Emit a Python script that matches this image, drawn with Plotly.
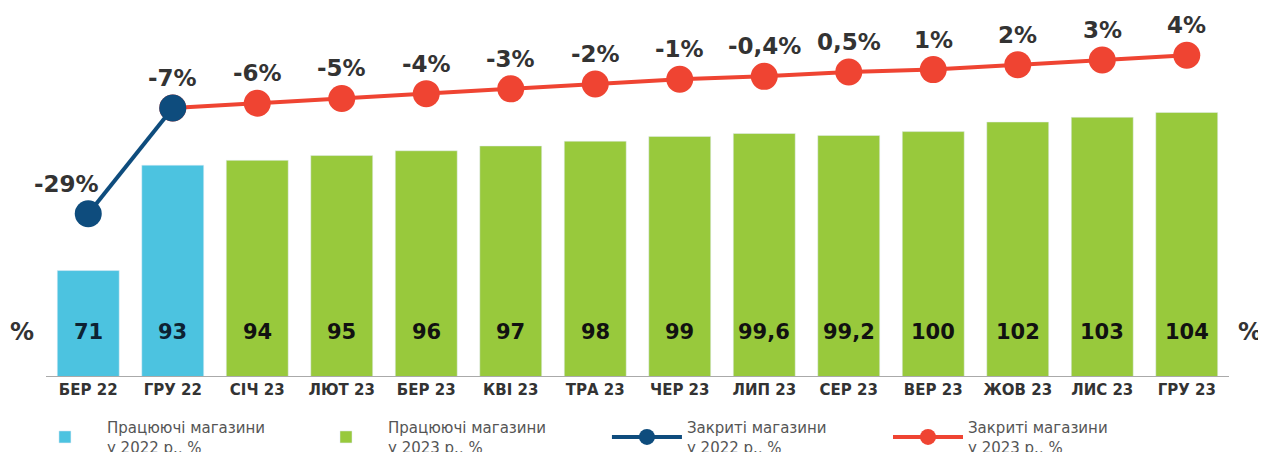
import plotly.graph_objects as go

# ---- data ----
months_2022 = ["БЕР 22", "ГРУ 22"]
months_2023 = ["СІЧ 23", "ЛЮТ 23", "БЕР 23", "КВІ 23", "ТРА 23", "ЧЕР 23",
               "ЛИП 23", "СЕР 23", "ВЕР 23", "ЖОВ 23", "ЛИС 23", "ГРУ 23"]
working_2022 = [71, 93]
working_2023 = [94, 95, 96, 97, 98, 99, 99.6, 99.2, 100, 102, 103, 104]
closed_2022 = [-29, -7]
closed_2023 = [-6, -5, -4, -3, -2, -1, -0.4, 0.5, 1, 2, 3, 4]

FONT = "DejaVu Sans"
C_BLUE = "#4cc3e0"
C_GREEN = "#98c93c"
C_NAVY = "#0e4c7d"
C_RED = "#ef4432"


def fmt(v):
    return ("%g" % v).replace(".", ",")


fig = go.Figure()

fig.add_trace(go.Bar(x=months_2022, y=working_2022, marker_color=C_BLUE,
                     name="Працюючі магазини<br>у 2022 р., %", legend="legend"))
fig.add_trace(go.Bar(x=months_2023, y=working_2023, marker_color=C_GREEN,
                     name="Працюючі магазини<br>у 2023 р., %", legend="legend2"))

red_x = [months_2022[-1]] + months_2023
red_y = [closed_2022[-1]] + closed_2023
fig.add_trace(go.Scatter(x=red_x, y=red_y, yaxis="y2", mode="lines+markers",
                         line=dict(color=C_RED, width=4),
                         marker=dict(color=C_RED, size=27),
                         cliponaxis=False,
                         name="Закриті магазини<br>у 2023 р., %", legend="legend4"))
fig.add_trace(go.Scatter(x=months_2022, y=closed_2022, yaxis="y2", mode="lines+markers",
                         line=dict(color=C_NAVY, width=4),
                         marker=dict(color=C_NAVY, size=27),
                         cliponaxis=False,
                         name="Закриті магазини<br>у 2022 р., %", legend="legend3"))

annotations = []
# bar value labels
for xs, ys, col in [(months_2022, working_2022, "#0d2233"), (months_2023, working_2023, "#111111")]:
    for xv, yv in zip(xs, ys):
        annotations.append(dict(x=xv, y=58.2, xref="x", yref="y", text="<b>%s</b>" % fmt(yv),
                                showarrow=False, font=dict(family=FONT, size=21, color=col)))
# line value labels
all_x = months_2022 + months_2023
all_y = closed_2022 + closed_2023
for i, (xv, yv) in enumerate(zip(all_x, all_y)):
    annotations.append(dict(x=xv, y=yv, xref="x", yref="y2", text="<b>%s%%</b>" % fmt(yv),
                            showarrow=False, yshift=30, xshift=-22 if i == 0 else 0,
                            font=dict(family=FONT, size=23, color="#333333")))
# % side labels
for px in (-0.0203, 1.0177):
    annotations.append(dict(x=px, y=0.127, xref="paper", yref="paper", text="<b>%</b>",
                            xanchor="center", yanchor="middle",
                            showarrow=False, font=dict(family=FONT, size=24, color="#333333")))

leg_common = dict(orientation="h", xanchor="left", yanchor="top", xref="container",
                  yref="container", y=0.1085, bgcolor="rgba(0,0,0,0)",
                  font=dict(family=FONT, size=15, color="#555555"))

fig.update_layout(
    width=1266, height=452,
    margin=dict(l=38, r=45, t=22, b=84, autoexpand=False),
    paper_bgcolor="white", plot_bgcolor="white",
    barmode="overlay", bargap=0.267,
    font=dict(family=FONT),
    xaxis=dict(type="category", categoryorder="array", categoryarray=all_x,
               range=[-0.5, 13.5], showgrid=False, showline=True, linecolor="#aaaaaa",
               linewidth=1, ticks="", tickfont=dict(family=FONT, size=15, color="#333333"),
               tickprefix="<b>", ticksuffix="</b>"),
    yaxis=dict(range=[49, 121.2], visible=False, showgrid=False),
    yaxis2=dict(range=[-62.8, 9.25], overlaying="y", visible=False, showgrid=False),
    legend=dict(x=0.0118, itemwidth=74, **leg_common),
    legend2=dict(x=0.2338, itemwidth=74, **leg_common),
    legend3=dict(x=0.4731, itemwidth=70, **leg_common),
    legend4=dict(x=0.6951, itemwidth=70, **leg_common),
    annotations=annotations,
    showlegend=True,
)

fig.write_html("out.html")
